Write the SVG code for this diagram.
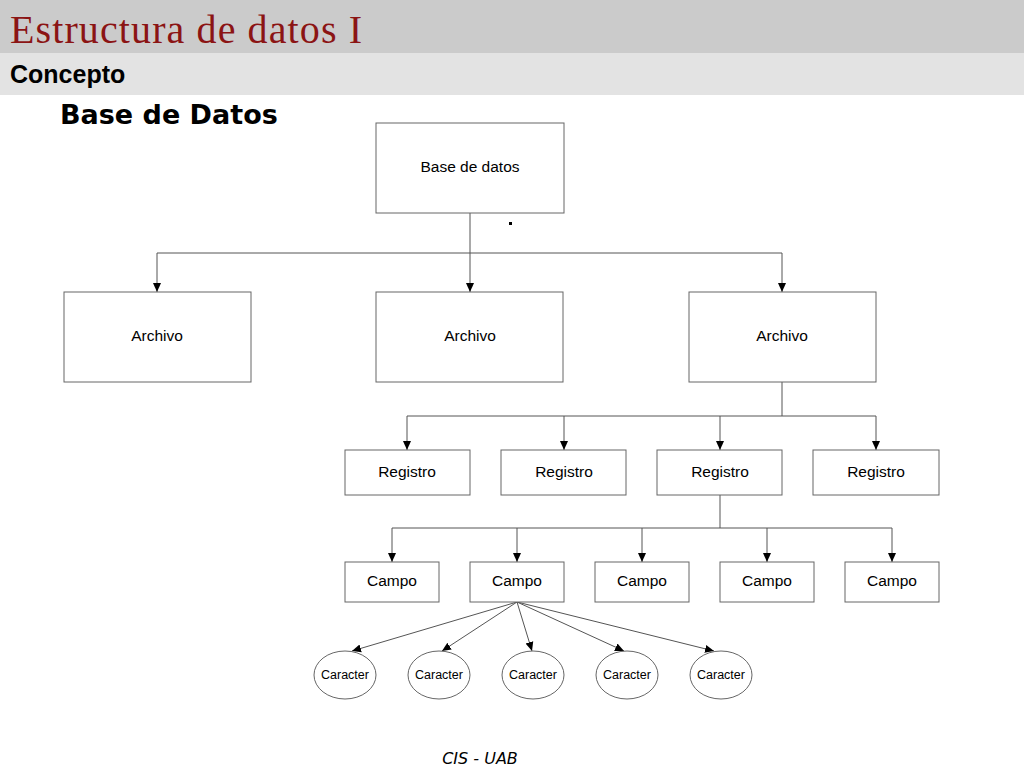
<svg xmlns="http://www.w3.org/2000/svg" width="1024" height="768" viewBox="0 0 1024 768">
<style>
.b{fill:#fff;stroke:#666;stroke-width:1}
.t{font-family:"Liberation Sans",Arial,sans-serif;font-size:15.5px;text-anchor:middle;fill:#000}
.s{font-family:"Liberation Sans",Arial,sans-serif;font-size:12.5px;text-anchor:middle;fill:#000}
.c{fill:none;stroke:#555;stroke-width:1}
</style>
<defs><marker id="a" markerWidth="10" markerHeight="10" refX="9" refY="5" orient="auto" markerUnits="userSpaceOnUse"><path d="M0,1 L9,5 L0,9 Z" fill="#000"/></marker></defs>
<rect width="1024" height="768" fill="#fff"/>
<rect width="1024" height="53" fill="#cbcbcb"/>
<rect y="53" width="1024" height="42" fill="#e3e3e3"/>
<text x="10" y="43" font-family="Liberation Serif,serif" font-size="40" fill="#8b1414" textLength="352">Estructura de datos I</text>
<text x="10" y="83" font-family="Liberation Sans,Arial,sans-serif" font-size="25" font-weight="bold">Concepto</text>
<text x="60" y="124" font-family="DejaVu Sans,sans-serif" font-size="27" font-weight="bold">Base de Datos</text>
<rect x="509" y="222" width="3" height="3" fill="#000"/>
<g id="connectors">
<path class="c" d="M470,213 V253 M157,253 H782"/>
<path class="c" marker-end="url(#a)" d="M157,253 V292"/>
<path class="c" marker-end="url(#a)" d="M470,253 V292"/>
<path class="c" marker-end="url(#a)" d="M782,253 V292"/>
<path class="c" d="M782,382 V416 M407,416 H876"/>
<path class="c" marker-end="url(#a)" d="M407,416 V450"/>
<path class="c" marker-end="url(#a)" d="M564,416 V450"/>
<path class="c" marker-end="url(#a)" d="M720,416 V450"/>
<path class="c" marker-end="url(#a)" d="M876,416 V450"/>
<path class="c" d="M720,495 V528 M392,528 H892"/>
<path class="c" marker-end="url(#a)" d="M392,528 V562"/>
<path class="c" marker-end="url(#a)" d="M517,528 V562"/>
<path class="c" marker-end="url(#a)" d="M642,528 V562"/>
<path class="c" marker-end="url(#a)" d="M767,528 V562"/>
<path class="c" marker-end="url(#a)" d="M892,528 V562"/>
<path class="c" marker-end="url(#a)" d="M517,602 L352,651"/>
<path class="c" marker-end="url(#a)" d="M517,602 L442,651"/>
<path class="c" marker-end="url(#a)" d="M517,602 L532,651"/>
<path class="c" marker-end="url(#a)" d="M517,602 L624,651"/>
<path class="c" marker-end="url(#a)" d="M517,602 L714,651"/>
</g>
<g id="n-bd"><rect class="b" x="376" y="123" width="188" height="90"/><text class="t" x="470" y="172">Base de datos</text></g>
<g id="n-a1"><rect class="b" x="64" y="292" width="187" height="90"/><text class="t" x="157" y="341">Archivo</text></g>
<g id="n-a2"><rect class="b" x="376" y="292" width="187" height="90"/><text class="t" x="470" y="341">Archivo</text></g>
<g id="n-a3"><rect class="b" x="689" y="292" width="187" height="90"/><text class="t" x="782" y="341">Archivo</text></g>
<g id="n-r1"><rect class="b" x="345" y="450" width="125" height="45"/><text class="t" x="407" y="477">Registro</text></g>
<g id="n-r2"><rect class="b" x="501" y="450" width="125" height="45"/><text class="t" x="564" y="477">Registro</text></g>
<g id="n-r3"><rect class="b" x="657" y="450" width="125" height="45"/><text class="t" x="720" y="477">Registro</text></g>
<g id="n-r4"><rect class="b" x="813" y="450" width="126" height="45"/><text class="t" x="876" y="477">Registro</text></g>
<g id="n-c1"><rect class="b" x="345" y="562" width="94" height="40"/><text class="t" x="392" y="586">Campo</text></g>
<g id="n-c2"><rect class="b" x="470" y="562" width="94" height="40"/><text class="t" x="517" y="586">Campo</text></g>
<g id="n-c3"><rect class="b" x="595" y="562" width="94" height="40"/><text class="t" x="642" y="586">Campo</text></g>
<g id="n-c4"><rect class="b" x="720" y="562" width="94" height="40"/><text class="t" x="767" y="586">Campo</text></g>
<g id="n-c5"><rect class="b" x="845" y="562" width="94" height="40"/><text class="t" x="892" y="586">Campo</text></g>
<g id="n-k1"><ellipse class="b" cx="345" cy="675" rx="31" ry="24"/><text class="s" x="345" y="679">Caracter</text></g>
<g id="n-k2"><ellipse class="b" cx="439" cy="675" rx="31" ry="24"/><text class="s" x="439" y="679">Caracter</text></g>
<g id="n-k3"><ellipse class="b" cx="533" cy="675" rx="31" ry="24"/><text class="s" x="533" y="679">Caracter</text></g>
<g id="n-k4"><ellipse class="b" cx="627" cy="675" rx="31" ry="24"/><text class="s" x="627" y="679">Caracter</text></g>
<g id="n-k5"><ellipse class="b" cx="721" cy="675" rx="31" ry="24"/><text class="s" x="721" y="679">Caracter</text></g>
<text x="480" y="764" font-family="DejaVu Sans,sans-serif" font-size="16" font-style="italic" text-anchor="middle">CIS - UAB</text>
</svg>
